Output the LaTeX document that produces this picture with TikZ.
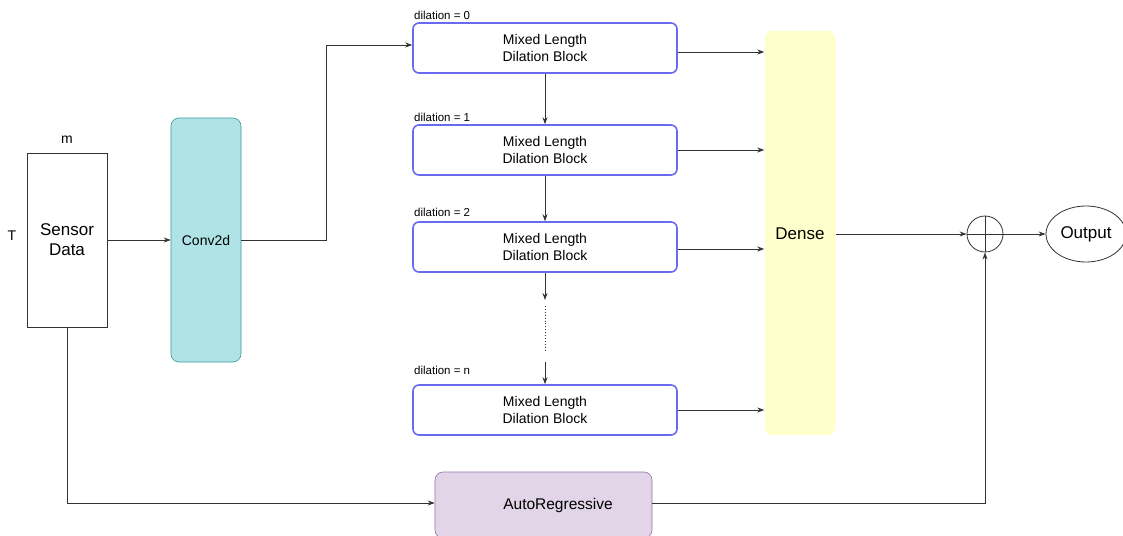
\documentclass[tikz,border=0pt]{standalone}
\usepackage{fontspec}
\setmainfont{Liberation Sans}
\usetikzlibrary{arrows.meta,calc,shapes.geometric}
\definecolor{blockblue}{HTML}{6A6AEE}
\definecolor{convfill}{HTML}{B0E3E6}
\definecolor{convline}{HTML}{3A9AA0}
\definecolor{densefill}{HTML}{FFFFCC}
\definecolor{arfill}{HTML}{E1D5E7}
\definecolor{arline}{HTML}{9673A6}
\definecolor{wire}{HTML}{333333}
\tikzset{
  x=1pt,y=-1pt,
  fs/.style 2 args={font=\fontsize{#1}{#2}\selectfont},
  wirel/.style={draw=wire,line width=0.8pt},
  arr/.style={wirel,-{Stealth[length=7pt,width=5pt]}},
  mldb/.style={draw=blockblue,line width=1.6pt,rounded corners=6pt,fill=white,minimum width=264pt,minimum height=50pt,align=center,fs={14}{17.5},inner sep=0pt},
  dil/.style={anchor=west,fs={11.5}{13},inner sep=0pt},
}
\begin{document}
\begin{tikzpicture}
\useasboundingbox (0,0) rectangle (1123,535);
% sensor data
\node[draw=wire,line width=0.8pt,minimum width=80pt,minimum height=174pt,inner sep=0pt,align=center,fs={17}{20}] (sd) at (67,240) {Sensor\\Data};
\node[fs={14}{16}] (m) at (67,140) {m};
\node[fs={14}{16}] (T) at (12,236) {T};
% conv2d
\node[draw=convline,fill=convfill,line width=0.6pt,rounded corners=8pt,minimum width=70pt,minimum height=244pt,inner sep=0pt,fs={14}{16}] (conv) at (206,240) {Conv2d};
% blocks
\node[mldb] (b0) at (545,48) {Mixed Length\\Dilation Block};
\node[mldb] (b1) at (545,150) {Mixed Length\\Dilation Block};
\node[mldb] (b2) at (545,247) {Mixed Length\\Dilation Block};
\node[mldb] (bn) at (545,410) {Mixed Length\\Dilation Block};
\node[dil] (d0) at (414,15) {dilation = 0};
\node[dil] (d1) at (414,117) {dilation = 1};
\node[dil] (d2) at (414,212) {dilation = 2};
\node[dil] (dn) at (414,370) {dilation = n};
% dense
\node[fill=densefill,rounded corners=8pt,minimum width=71pt,minimum height=404pt,inner sep=0pt] (dense) at (800,233) {};
\node[fs={17}{20}] (densetext) at (800,234) {Dense};
% sum
\node[draw=wire,line width=0.8pt,circle,minimum size=36pt,inner sep=0pt] (sum) at (985,234) {};
\draw[wirel] (sum.north) -- (sum.south) (sum.west) -- (sum.east);
% output
\node[draw=wire,line width=0.8pt,ellipse,minimum width=80pt,minimum height=56pt,inner sep=0pt,fs={17}{20}] (out) at (1086,234) {Output};
% AR
\node[draw=arline,fill=arfill,line width=0.6pt,rounded corners=8pt,minimum width=217pt,minimum height=66pt,inner sep=0pt] (ar) at (543.5,505) {};
\node[fs={15.5}{18}] (artext) at (558,505) {AutoRegressive};
% connectors
\draw[arr] (sd.east |- 0,240) -- (conv.west |- 0,240);
\coordinate (c1) at (326,240);
\coordinate (c2) at (326,45);
\draw[arr] (conv.east |- c1) -- (c1) -- (c2) -- (b0.west |- c2);
\draw[arr] (b0.south) -- (b1.north);
\draw[arr] (b1.south) -- (b2.north);
\coordinate (e1) at (545,300);
\coordinate (e2) at (545,362);
\draw[arr] (b2.south) -- (e1);
\draw[draw=wire,line width=0.9pt,dotted] (545,306) -- (545,350);
\draw[arr] (e2) -- (bn.north);
\draw[arr] (b0.east |- 0,52) -- (dense.west |- 0,52);
\draw[arr] (b1.east) -- (dense.west |- b1.east);
\draw[arr] (b2.east |- 0,249) -- (dense.west |- 0,249);
\draw[arr] (bn.east) -- (dense.west |- bn.east);
\draw[arr] (dense.east |- sum.west) -- (sum.west);
\draw[arr] (sum.east) -- (out.west);
\coordinate (s1) at (67,503);
\draw[arr] (sd.south) -- (s1) -- (ar.west |- s1);
\coordinate (a1) at (985,503);
\draw[arr] (ar.east |- a1) -- (a1) -- (sum.south);
\end{tikzpicture}
\end{document}
